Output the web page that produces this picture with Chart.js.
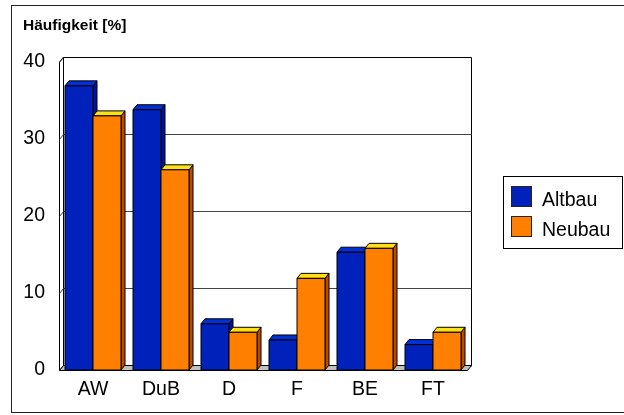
<!DOCTYPE html>
<html>
<head>
<meta charset="utf-8">
<script src="https://cdn.jsdelivr.net/npm/chart.js@4/dist/chart.umd.min.js"></script>
<style>
  html, body { margin: 0; padding: 0; background: #fff; }
  #wrap { width: 624px; height: 415px; }
</style>
</head>
<body>
<div id="wrap"><canvas id="c" width="624" height="415"></canvas></div>
<script>
// Share of damage types, old vs. new buildings
const categories = ['AW', 'DuB', 'D', 'F', 'BE', 'FT'];
const altbau = [36.9, 33.8, 6.0, 3.9, 15.3, 3.3];
const neubau = [33.0, 26.0, 4.9, 11.9, 15.8, 4.9];
const seriesNames = ['Altbau', 'Neubau'];
const yTickValues = [0, 10, 20, 30, 40];
const axisTitle = 'Häufigkeit [%]';

// Face colours per series: front, top, side
const faces = [
  { front: '#0022bb', top: '#0030d6', side: '#0014a0' },
  { front: '#ff8000', top: '#ffe014', side: '#c04800' }
];

const FONT = '"Liberation Sans", Arial, sans-serif';
const DX = 4, DY = 5;   // depth offset of the 3D walls and bars

const threeD = {
  id: 'threeD',
  beforeDraw(chart) {
    const ctx = chart.ctx;
    ctx.save();
    ctx.fillStyle = '#fff';
    ctx.fillRect(0, 0, chart.width, chart.height);
    ctx.restore();
  },
  beforeDatasetsDraw(chart) {
    const { ctx, chartArea: a, scales: { y } } = chart;
    const L = a.left + 0.5, R = a.right + 0.5, T = a.top, B = a.bottom + 0.5;
    ctx.save();
    ctx.lineWidth = 1;
    ctx.strokeStyle = '#000';

    // left side wall
    ctx.fillStyle = '#fff';
    ctx.beginPath();
    ctx.moveTo(L, T); ctx.lineTo(L + DX, T - DY);
    ctx.lineTo(L + DX, B - DY); ctx.lineTo(L, B);
    ctx.closePath(); ctx.fill(); ctx.stroke();

    // back wall
    ctx.beginPath();
    ctx.rect(L + DX, T - DY + 0.5, R - L, B - T);
    ctx.fill(); ctx.stroke();

    // gridlines on back wall and their stubs on the side wall
    ctx.strokeStyle = '#444';
    yTickValues.forEach(v => {
      if (v === 0) return;
      const py = Math.round(y.getPixelForValue(v)) + 0.5;
      ctx.beginPath();
      ctx.moveTo(L, py); ctx.lineTo(L + DX, py - DY);
      if (v !== yTickValues[yTickValues.length - 1]) ctx.lineTo(R + DX, py - DY);
      ctx.stroke();
    });

    // floor slab
    ctx.strokeStyle = '#000';
    ctx.fillStyle = '#c0c0c0';
    ctx.beginPath();
    ctx.moveTo(L, B); ctx.lineTo(R, B);
    ctx.lineTo(R + DX, B - DY); ctx.lineTo(L + DX, B - DY);
    ctx.closePath(); ctx.fill(); ctx.stroke();
    ctx.restore();
  },
  afterDatasetsDraw(chart) {
    const ctx = chart.ctx;
    const metas = chart.data.datasets.map((_, i) => chart.getDatasetMeta(i));
    ctx.save();
    ctx.lineWidth = 1;
    ctx.strokeStyle = '#000';
    ctx.lineJoin = 'miter';
    for (let i = 0; i < categories.length; i++) {
      metas.forEach((meta, di) => {
        const el = meta.data[i];
        if (!el) return;
        const p = el.getProps(['x', 'y', 'base', 'width'], true);
        const l = p.x - p.width / 2, r = p.x + p.width / 2, t = p.y, b = p.base;
        const f = faces[di];
        // side
        ctx.fillStyle = f.side;
        ctx.beginPath();
        ctx.moveTo(r, t); ctx.lineTo(r + DX, t - DY);
        ctx.lineTo(r + DX, b - DY); ctx.lineTo(r, b);
        ctx.closePath(); ctx.fill(); ctx.stroke();
        // top
        ctx.fillStyle = f.top;
        ctx.beginPath();
        ctx.moveTo(l, t); ctx.lineTo(l + DX, t - DY);
        ctx.lineTo(r + DX, t - DY); ctx.lineTo(r, t);
        ctx.closePath(); ctx.fill(); ctx.stroke();
        // front
        ctx.fillStyle = f.front;
        ctx.beginPath();
        ctx.rect(l, t, r - l, b - t);
        ctx.fill(); ctx.stroke();
      });
    }
    ctx.restore();
  },
  afterDraw(chart) {
    const ctx = chart.ctx;
    ctx.save();
    // axis title
    ctx.fillStyle = '#000';
    ctx.font = 'bold 15.5px ' + FONT;
    ctx.textBaseline = 'alphabetic';
    ctx.textAlign = 'left';
    ctx.fillText(axisTitle, 23, 30);

    // legend
    ctx.lineWidth = 1;
    ctx.strokeStyle = '#000';
    ctx.strokeRect(503.5, 176.5, 119, 72);
    ctx.font = '19.5px ' + FONT;
    chart.data.datasets.forEach((ds, i) => {
      const sy = 186.5 + i * 30;
      ctx.fillStyle = faces[i].front;
      ctx.fillRect(511.5, sy, 20, 20);
      ctx.strokeStyle = '#222';
      ctx.strokeRect(511.5, sy, 20, 20);
      ctx.fillStyle = '#000';
      ctx.fillText(ds.label, 542, sy + 19);
    });

    // outer frame
    ctx.strokeStyle = '#222';
    ctx.strokeRect(11.5, 5.5, 700, 407);
    ctx.restore();
  }
};

new Chart(document.getElementById('c'), {
  type: 'bar',
  data: {
    labels: categories,
    datasets: [
      { label: seriesNames[0], data: altbau, backgroundColor: faces[0].front, borderWidth: 0 },
      { label: seriesNames[1], data: neubau, backgroundColor: faces[1].front, borderWidth: 0 }
    ]
  },
  options: {
    responsive: false,
    animation: false,
    devicePixelRatio: 1,
    layout: { padding: { left: 0, top: 62, right: 157, bottom: 0 } },
    datasets: { bar: { barPercentage: 1, categoryPercentage: 56 / 68 } },
    plugins: {
      legend: { display: false },
      title: { display: false },
      tooltip: { enabled: false }
    },
    scales: {
      x: {
        grid: { display: false, drawTicks: false },
        border: { display: false },
        ticks: { color: '#000', font: { family: FONT, size: 19.5 }, padding: 8, maxRotation: 0 },
        afterFit(s) { s.height = 45; }
      },
      y: {
        min: 0, max: 40,
        grid: { display: false, drawTicks: false },
        border: { display: false },
        afterBuildTicks(s) { s.ticks = yTickValues.map(v => ({ value: v })); },
        ticks: { color: '#000', font: { family: FONT, size: 19.5 }, padding: 14 },
        afterFit(s) { s.width = 59; }
      }
    }
  },
  plugins: [threeD]
});
</script>
</body>
</html>
